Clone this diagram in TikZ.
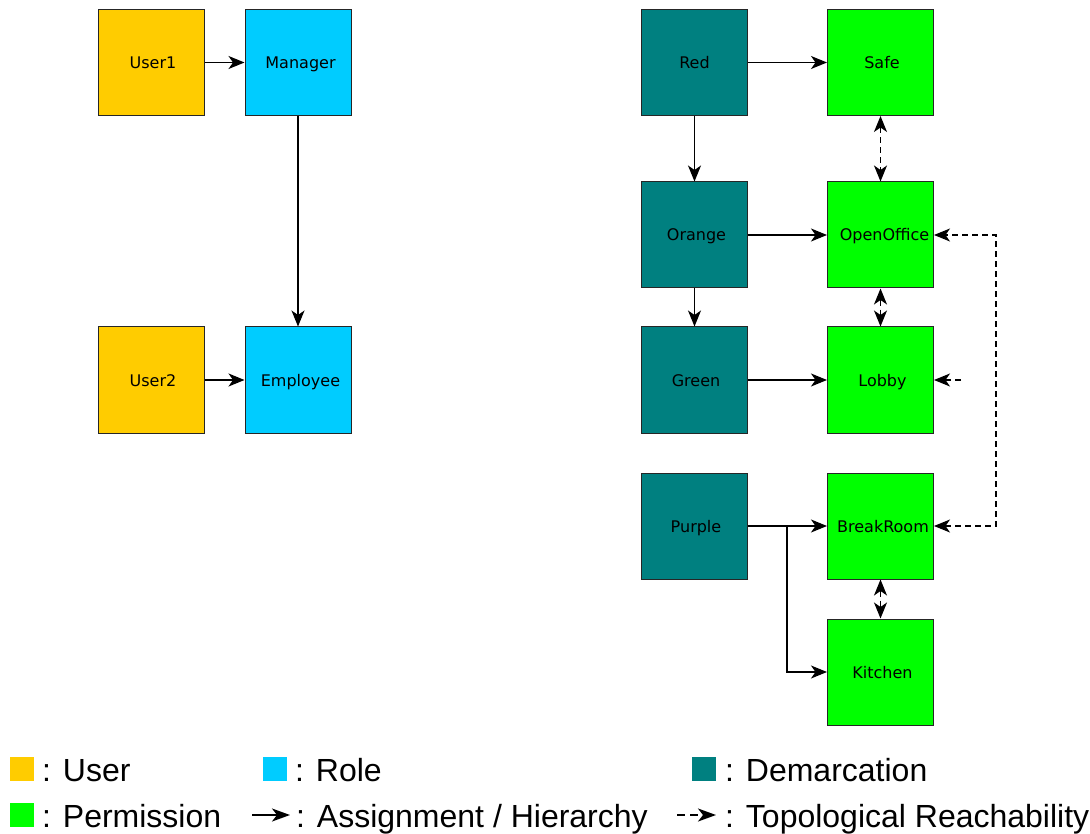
\documentclass[tikz,border=0pt]{standalone}
\usepackage{fontspec}
\setmainfont{DejaVu Sans}
\newfontfamily\legendfont{Liberation Sans}
\usetikzlibrary{arrows.meta}

\definecolor{usercol}{RGB}{255,204,0}
\definecolor{rolecol}{RGB}{0,204,255}
\definecolor{demcol}{RGB}{0,128,128}
\definecolor{permcol}{RGB}{0,255,0}

\tikzset{
  entity/.style={draw=black!85, line width=1pt, rectangle, inner sep=0pt,
    minimum width=106pt, minimum height=106pt,
    font=\fontsize{16}{19}\selectfont, text height=12pt, text depth=0pt},
  userbox/.style={entity, fill=usercol},
  rolebox/.style={entity, fill=rolecol},
  dembox/.style={entity, fill=demcol},
  permbox/.style={entity, fill=permcol},
  tipa/.tip={Stealth[length=16pt, width=13pt, inset=4.5pt]},
  tipb/.tip={Stealth[length=18pt, width=13pt, inset=5pt]},
  assign/.style={line width=1.2pt, -tipa},
  reach/.style={line width=1.2pt, dash pattern=on 6pt off 4pt, -tipa},
  reachboth/.style={line width=1.2pt, dash pattern=on 6pt off 4pt, tipa-tipa},
  keyarrow/.style={line width=1.8pt, -tipb},
  keydash/.style={line width=1.8pt, dash pattern=on 8pt off 5pt, -tipb},
  keybox/.style={rectangle, inner sep=0pt, minimum width=24pt, minimum height=24pt},
  keytext/.style={anchor=base west, inner sep=0pt,
    font=\legendfont\fontsize{32}{38}\selectfont}
}

\begin{document}
\begin{tikzpicture}[x=1pt, y=-1pt]
\useasboundingbox (0,0) rectangle (1090,834);

% users and roles
\node[userbox] (user1) at (151.5,62.5) {\hspace{3pt}User1};
\node[rolebox] (manager) at (298,62.5) {\hspace{5pt}Manager};
\node[userbox] (user2) at (151.5,380) {\hspace{3pt}User2};
\node[rolebox] (employee) at (298,380) {\hspace{5pt}Employee};

% demarcations
\node[dembox] (red) at (694.5,62.5) {Red};
\node[dembox] (orange) at (694.5,235) {\hspace{4pt}Orange};
\node[dembox] (green) at (694.5,380) {\hspace{3pt}Green};
\node[dembox] (purple) at (694.5,526) {\hspace{3pt}Purple};

% permissions
\node[permbox] (safe) at (880.5,62.5) {\hspace{3pt}Safe};
\node[permbox] (openoffice) at (880.5,235) {\hspace{8pt}OpenOffice};
\node[permbox] (lobby) at (880.5,380) {\hspace{4pt}Lobby};
\node[permbox] (breakroom) at (880.5,526) {\hspace{5pt}BreakRoom};
\node[permbox] (kitchen) at (880.5,672) {\hspace{4pt}Kitchen};

% assignment and hierarchy
\draw[assign] (user1) -- (manager);
\draw[assign] (manager) -- (employee);
\draw[assign] (user2) -- (employee);
\draw[assign] (red) -- (safe);
\draw[assign] (red) -- (orange);
\draw[assign] (orange) -- (openoffice);
\draw[assign] (orange) -- (green);
\draw[assign] (green) -- (lobby);
\draw[assign] (purple) -- (breakroom);
\coordinate (split) at (787,526);
\draw[assign] (purple.east) -- (split) |- (kitchen.west);

% topological reachability
\draw[reachboth] (safe) -- (openoffice);
\draw[reachboth] (openoffice) -- (lobby);
\draw[reachboth] (breakroom) -- (kitchen);
\coordinate (bend) at (996,526);
\draw[reachboth] (breakroom.east) -- (bend) |- (openoffice.east);
\coordinate (lobbyin) at (961,380);
\draw[reach] (lobbyin) -- (lobby.east);

% legend
\node[keybox, fill=usercol] (kuser) at (21.5,769) {};
\node[keytext] (tuser) at (42,781) {: User};
\node[keybox, fill=rolecol] (krole) at (275,769) {};
\node[keytext] (trole) at (295,781) {: Role};
\node[keybox, fill=demcol] (kdem) at (704,769) {};
\node[keytext] (tdem) at (725,781) {: Demarcation};

\node[keybox, fill=permcol] (kperm) at (21.5,815) {};
\node[keytext] (tperm) at (42,827) {: Permission};
\coordinate (ka1) at (252,815);
\coordinate (ka2) at (290,815);
\draw[keyarrow] (ka1) -- (ka2);
\node[keytext] (tassign) at (296,827) {: Assignment / Hierarchy};
\coordinate (kr1) at (677,815);
\coordinate (kr2) at (716,815);
\draw[keydash] (kr1) -- (kr2);
\node[keytext] (treach) at (725,827) {: Topological Reachability};
\end{tikzpicture}
\end{document}
